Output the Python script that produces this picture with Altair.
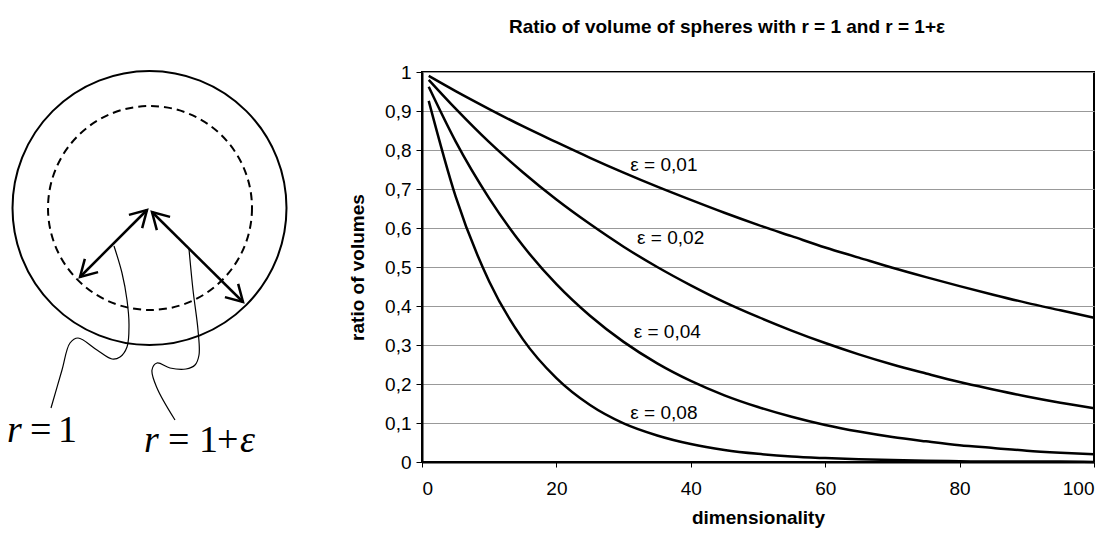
import altair as alt
import pandas as pd

# ---------------- line chart data ----------------
dims = [1, 5, 10, 15, 20, 25, 30, 35, 40, 45, 50, 55, 60, 65, 70, 75, 80, 85, 90, 95, 100]
eps_001 = [0.990, 0.951, 0.905, 0.861, 0.820, 0.780, 0.742, 0.706, 0.672, 0.639, 0.608,
           0.579, 0.550, 0.524, 0.498, 0.474, 0.451, 0.429, 0.408, 0.389, 0.370]
eps_002 = [0.980, 0.906, 0.820, 0.743, 0.673, 0.610, 0.552, 0.500, 0.453, 0.410, 0.372,
           0.337, 0.305, 0.276, 0.250, 0.227, 0.205, 0.186, 0.168, 0.152, 0.138]
eps_004 = [0.962, 0.822, 0.676, 0.555, 0.456, 0.375, 0.308, 0.253, 0.208, 0.171, 0.141,
           0.116, 0.095, 0.078, 0.064, 0.053, 0.043, 0.036, 0.029, 0.024, 0.020]
eps_008 = [0.926, 0.681, 0.463, 0.315, 0.215, 0.146, 0.099, 0.068, 0.046, 0.031, 0.021,
           0.014, 0.010, 0.007, 0.005, 0.003, 0.002, 0.001, 0.001, 0.001, 0.000]
series_names = ["ε = 0,01", "ε = 0,02", "ε = 0,04", "ε = 0,08"]
label_x = [36.0, 37.0, 36.5, 36.0]
label_y = [0.762, 0.574, 0.333, 0.126]
y_ticks = [0, 0.1, 0.2, 0.3, 0.4, 0.5, 0.6, 0.7, 0.8, 0.9, 1]
x_ticks = [0, 20, 40, 60, 80, 100]

# ---------------- diagram data (page coordinates) ----------------
circle_cx = [149.5, 150.0]
circle_cy = [208.0, 208.0]
circle_d = [274, 204]
circle_dash = ["solid", "dashed"]

shaft_id = ["a", "a", "b", "b"]
shaft_x = [147, 80, 152, 243]
shaft_y = [210, 277, 212, 302]

head_x = [147, 80, 152, 243]
head_y = [210, 277, 212, 302]
head_angle = [45, 225, 315, 135]

wave1_x = [114, 122, 127, 129, 127, 120, 112, 97, 78, 70, 62, 51]
wave1_y = [246, 273, 300, 325, 347, 357, 359, 350, 338, 343, 370, 408]
wave2_x = [189, 193, 198, 199, 195, 186, 170, 157, 152, 157, 175]
wave2_y = [249, 290, 330, 355, 365, 369, 368, 363, 370, 388, 420]

formula_text = ["r", "=", "1", "r", "=", "1", "+", "ε"]
formula_x = [7, 30, 58, 144, 168, 199, 217, 240]
formula_y = [442, 442, 442, 452, 452, 452, 452, 452]
formula_style = ["italic", "normal", "normal", "italic", "normal", "normal", "normal", "italic"]

# ---------------- layout ----------------
PAD_L, PAD_T = 414, 64
W, H = 672, 390
PAD_R = 1096 - PAD_L - W
PAD_B = 70
FONT = "Liberation Sans"

rows = []
for name, vals in zip(series_names, [eps_001, eps_002, eps_004, eps_008]):
    for d, v in zip(dims, vals):
        rows.append({"series": name, "d": d, "v": v})
lines_df = pd.DataFrame(rows)
labels_df = pd.DataFrame({"t": series_names, "x": label_x, "y": label_y})

xs = alt.Scale(domain=[0, 100], nice=False, zero=False)
ys = alt.Scale(domain=[0, 1], nice=False, zero=False)

x_axis = alt.Axis(
    title="dimensionality", values=x_ticks, grid=False, domainColor="black", domainWidth=2,
    tickColor="black", tickSize=5, tickWidth=1, labelFontSize=19, labelPadding=12,
    labelFont=FONT, labelColor="black", labelOverlap=False,
    titleFont=FONT, titleFontSize=19, titleFontWeight="bold", titleColor="black",
    titleY=55, titleBaseline="middle")
y_axis = alt.Axis(
    title="ratio of volumes", values=y_ticks, tickCount=11, grid=True, gridColor="#999999",
    gridWidth=1, domainColor="black", domainWidth=2, tickColor="black", tickSize=6, tickWidth=1,
    labelFontSize=19, labelPadding=5, labelFont=FONT, labelColor="black",
    labelOverlap=False,
    labelExpr="datum.value == 0 ? '0' : datum.value == 1 ? '1' : replace(format(datum.value, '.1f'), '.', ',')",
    titleFont=FONT, titleFontSize=19, titleFontWeight="bold", titleColor="black",
    titleX=-65, titleY=H / 2, titleAngle=-90, titleAlign="center", titleBaseline="middle")

lines = alt.Chart(lines_df).mark_line(color="black", strokeWidth=2.5, interpolate="monotone").encode(
    x=alt.X("d:Q", scale=xs, axis=x_axis),
    y=alt.Y("v:Q", scale=ys, axis=y_axis),
    detail="series:N",
)
labels = alt.Chart(labels_df).mark_text(font=FONT, fontSize=19, color="black").encode(
    x=alt.X("x:Q", scale=xs, axis=x_axis), y=alt.Y("y:Q", scale=ys, axis=y_axis), text="t:N")

main = alt.layer(lines, labels)

# diagram scales: page coordinates -> plot coordinates
dx = alt.Scale(domain=[0, 1112], range=[-(PAD_L + 8), 1112 - (PAD_L + 8)], nice=False, zero=False)
dy = alt.Scale(domain=[0, 537], range=[-(PAD_T + 8), 537 - (PAD_T + 8)], nice=False, zero=False)

circ_df = pd.DataFrame({"cx": circle_cx, "cy": circle_cy, "s": [d * d for d in circle_d], "dash": circle_dash})
circ_solid = alt.Chart(circ_df[circ_df.dash == "solid"]).mark_point(
    shape="circle", filled=False, color="black", strokeWidth=2, opacity=1).encode(
    x=alt.X("cx:Q", scale=dx, axis=None), y=alt.Y("cy:Q", scale=dy, axis=None),
    size=alt.Size("s:Q", scale=None))
circ_dash = alt.Chart(circ_df[circ_df.dash == "dashed"]).mark_point(
    shape="circle", filled=False, color="black", strokeWidth=2, strokeDash=[8, 5], opacity=1).encode(
    x=alt.X("cx:Q", scale=dx, axis=None), y=alt.Y("cy:Q", scale=dy, axis=None),
    size=alt.Size("s:Q", scale=None))

shaft_df = pd.DataFrame({"id": shaft_id, "x": shaft_x, "y": shaft_y, "o": list(range(len(shaft_x)))})
shafts = alt.Chart(shaft_df).mark_line(color="black", strokeWidth=2.5).encode(
    x=alt.X("x:Q", scale=dx, axis=None), y=alt.Y("y:Q", scale=dy, axis=None),
    detail="id:N", order="o:Q")

head_df = pd.DataFrame({"x": head_x, "y": head_y, "a": head_angle})
heads = alt.Chart(head_df).mark_point(
    shape="M-0.5,0.866L0,0L0.5,0.866", filled=False, color="black", strokeWidth=2.5, opacity=1,
    size=1400).encode(
    x=alt.X("x:Q", scale=dx, axis=None), y=alt.Y("y:Q", scale=dy, axis=None),
    angle=alt.Angle("a:Q", scale=None))

wave_rows = []
for wid, wx, wy in [("w1", wave1_x, wave1_y), ("w2", wave2_x, wave2_y)]:
    for i, (a, b) in enumerate(zip(wx, wy)):
        wave_rows.append({"id": wid, "x": a, "y": b, "o": i})
waves = alt.Chart(pd.DataFrame(wave_rows)).mark_line(
    color="black", strokeWidth=1.2, interpolate="catmull-rom").encode(
    x=alt.X("x:Q", scale=dx, axis=None), y=alt.Y("y:Q", scale=dy, axis=None),
    detail="id:N", order="o:Q")

ftxt_df = pd.DataFrame({"t": formula_text, "x": formula_x, "y": formula_y, "st": formula_style})
ftxt_it = alt.Chart(ftxt_df[ftxt_df.st == "italic"]).mark_text(
    font="Liberation Serif", fontSize=38, fontStyle="italic", align="left", baseline="alphabetic",
    color="black").encode(
    x=alt.X("x:Q", scale=dx, axis=None), y=alt.Y("y:Q", scale=dy, axis=None), text="t:N")
ftxt_up = alt.Chart(ftxt_df[ftxt_df.st == "normal"]).mark_text(
    font="Liberation Serif", fontSize=38, align="left", baseline="alphabetic",
    color="black").encode(
    x=alt.X("x:Q", scale=dx, axis=None), y=alt.Y("y:Q", scale=dy, axis=None), text="t:N")

diagram = alt.layer(circ_solid, circ_dash, shafts, heads, waves, ftxt_it, ftxt_up)

chart = alt.layer(main, diagram).resolve_scale(x="independent", y="independent").properties(
    width=W, height=H, background="white",
    title=alt.TitleParams("Ratio of volume of spheres with r = 1 and r = 1+ε", anchor="middle",
                          dx=-31, offset=26, font=FONT, fontSize=19,
                          fontWeight="bold", color="black"),
    padding={"left": PAD_L, "top": PAD_T, "right": PAD_R, "bottom": PAD_B},
    autosize=alt.AutoSizeParams(type="none"),
).configure_view(stroke="black", strokeWidth=2)

chart.save("out.html", embed_options={"renderer": "svg", "actions": False})
